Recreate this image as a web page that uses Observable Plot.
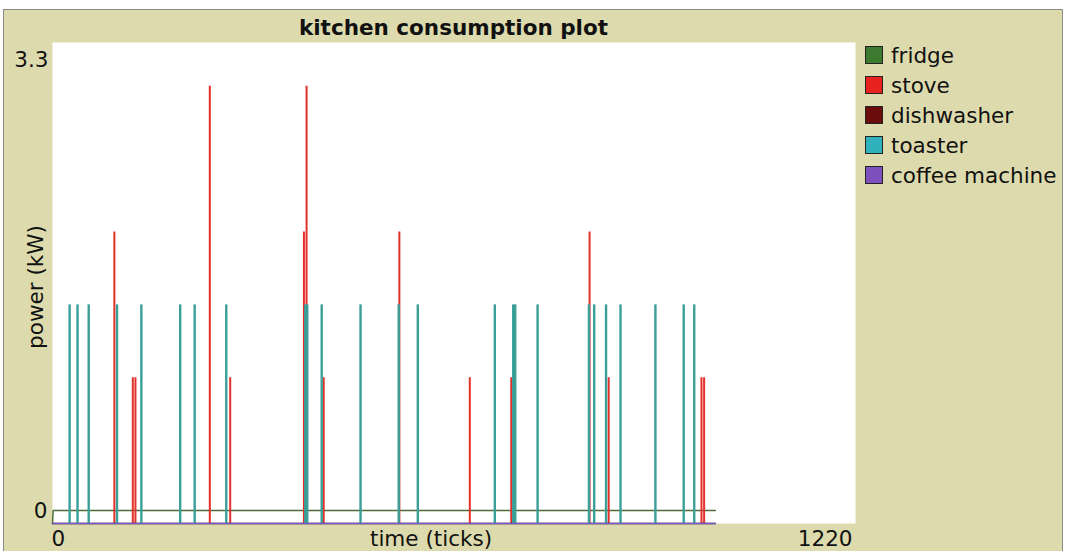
<!DOCTYPE html>
<html>
<head>
<meta charset="utf-8">
<script src="https://cdn.jsdelivr.net/npm/d3@7"></script>
<script src="https://cdn.jsdelivr.net/npm/@observablehq/plot@0.6"></script>
<style>
  body { margin: 0; background: #fff; width: 1067px; height: 551px; overflow: hidden; position: relative; }
  #widget { position: absolute; left: 3px; top: 9px; width: 1058px; height: 560px; background: #dddbad; border: 1px solid #8c8c84; }
  #title { position: absolute; left: 52px; width: 803px; top: 15px; text-align: center; font: bold 21.5px "DejaVu Sans"; color: #111; line-height: 26px; }
  #chart { position: absolute; left: 0; top: 32px; }
  #legend { position: absolute; left: 865px; top: 40px; font: 21.5px "DejaVu Sans"; color: #111; }
  .row { display: flex; align-items: center; height: 30px; }
  .sw { width: 16px; height: 16px; border: 1.5px solid #222; margin-right: 8px; box-sizing: content-box; }
</style>
</head>
<body>
<div id="widget"></div>
<div id="title">kitchen consumption plot</div>
<div id="chart"></div>
<div id="legend"></div>
<script>
// ---- data (ticks, kW) ----
const seriesNames = ["fridge", "stove", "dishwasher", "toaster", "coffee machine"];
const legendColors = ["#3b7a2f", "#e8231f", "#6a0c0c", "#2fb2bc", "#7e4fbf"];

const fridgeTicks = [0, 1, 1007];
const fridgeValues = [0, 0.09, 0.09];

const stoveTicks = [94, 122, 126, 239, 270, 382, 386, 412, 527, 634, 697, 816, 845, 986, 990];
const stoveValues = [2.0, 1.0, 1.0, 3.0, 1.0, 2.0, 3.0, 1.0, 2.0, 1.0, 1.0, 2.0, 1.0, 1.0, 1.0];

const dishwasherTicks = [0, 1007];
const dishwasherValues = [0, 0];

const toasterTicks = [26, 38, 55, 98, 135, 194, 216, 264, 384, 387, 409, 468, 526, 555, 672, 700, 703, 737, 815, 823, 841, 863, 916, 959, 975];
const toasterValues = [1.5, 1.5, 1.5, 1.5, 1.5, 1.5, 1.5, 1.5, 1.5, 1.5, 1.5, 1.5, 1.5, 1.5, 1.5, 1.5, 1.5, 1.5, 1.5, 1.5, 1.5, 1.5, 1.5, 1.5, 1.5];

const coffeeTicks = [0, 1007];
const coffeeValues = [0, 0];

const xTicks = [0, 1220];
const yTicks = [0, 3.3];

// ---- tables built from the arrays ----
const zip = (t, v) => t.map((x, i) => ({x, y: v[i]}));
const fridge = zip(fridgeTicks, fridgeValues);
const stove = zip(stoveTicks, stoveValues);
const dishwasher = zip(dishwasherTicks, dishwasherValues);
const toaster = zip(toasterTicks, toasterValues);
const coffee = zip(coffeeTicks, coffeeValues);

const fmt = d => String(d);

const chart = Plot.plot({
  width: 1067,
  height: 519,
  marginTop: 10,
  marginBottom: 28,
  marginLeft: 52,
  marginRight: 212,
  style: { background: "transparent", fontFamily: "DejaVu Sans", fontSize: "21px", color: "#111" },
  x: { domain: [xTicks[0], xTicks[1]], axis: null },
  y: { domain: [yTicks[0], yTicks[1]], axis: null },
  marks: [
    Plot.frame({ fill: "white", stroke: null }),
    Plot.line(fridge, { x: "x", y: "y", stroke: "#4f6b3a", strokeWidth: 1.5, curve: "linear" }),
    Plot.ruleX(stove, { x: "x", y1: 0, y2: "y", stroke: "#e3302a", strokeWidth: 2 }),
    Plot.line(dishwasher, { x: "x", y: "y", stroke: "#6a0c0c", strokeWidth: 1.5 }),
    Plot.ruleX(toaster, { x: "x", y1: 0, y2: "y", stroke: "#3a9f98", strokeWidth: 2.4 }),
    Plot.line(coffee, { x: "x", y: "y", stroke: "#6f5cc4", strokeWidth: 1.5 }),
    Plot.axisY([yTicks[1]], { label: null, tickSize: 0, tickPadding: 4, dy: 18, fontSize: 21.5, tickFormat: fmt }),
    Plot.axisY([yTicks[0]], { label: null, tickSize: 0, tickPadding: 5, dy: -12, fontSize: 21.5, tickFormat: fmt }),
    Plot.axisX([xTicks[0]], { label: null, tickSize: 0, tickPadding: 7, textAnchor: "start", dx: -1, fontSize: 21.5, tickFormat: fmt }),
    Plot.axisX([xTicks[1]], { label: null, tickSize: 0, tickPadding: 7, textAnchor: "end", dx: -3, fontSize: 21.5, tickFormat: fmt }),
    Plot.text(["time (ticks)"], { frameAnchor: "bottom", text: d => d, dx: -23, dy: 7, lineAnchor: "top", fontSize: 21.5 }),
    Plot.text(["power (kW)"], { frameAnchor: "left", text: d => d, dx: -16, dy: 4, rotate: -90, textAnchor: "middle", fontSize: 21.5 })
  ]
});
document.getElementById("chart").appendChild(chart);

const legend = document.getElementById("legend");
seriesNames.forEach((name, i) => {
  const row = document.createElement("div");
  row.className = "row";
  const sw = document.createElement("div");
  sw.className = "sw";
  sw.style.background = legendColors[i];
  const label = document.createElement("span");
  label.textContent = name;
  row.appendChild(sw);
  row.appendChild(label);
  legend.appendChild(row);
});
</script>
</body>
</html>
